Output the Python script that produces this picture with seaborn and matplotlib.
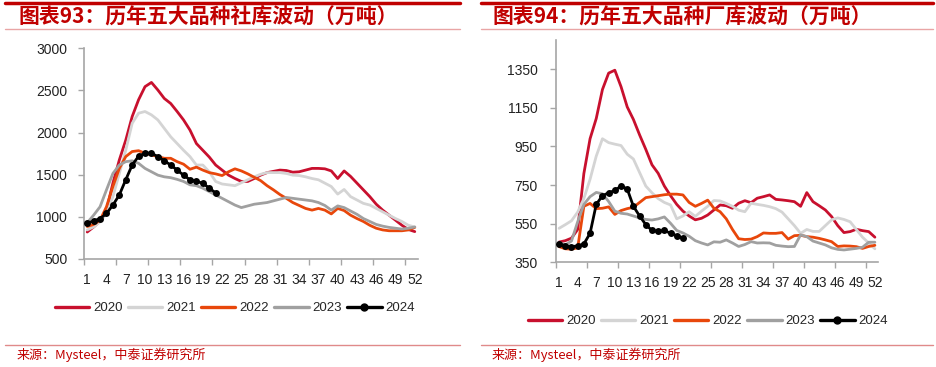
import numpy as np
import pandas as pd
import matplotlib
matplotlib.use("Agg")
import matplotlib.pyplot as plt
from matplotlib.lines import Line2D
import seaborn as sns

# 周次
weeks = list(range(1, 53))
years = ["2020", "2021", "2022", "2023", "2024"]
colors = {"2020": "#C8102E", "2021": "#D4D4D4", "2022": "#E8470B",
          "2023": "#A0A0A0", "2024": "#000000"}

# 社库（万吨）
social_2020 = [820, 880, 950, 1080, 1400, 1675, 1910, 2190, 2390, 2545, 2595, 2505, 2405,
               2345, 2250, 2150, 2030, 1870, 1790, 1710, 1615, 1555, 1495, 1455, 1420, 1420,
               1455, 1495, 1525, 1540, 1555, 1550, 1530, 1535, 1555, 1575, 1575, 1570, 1545,
               1455, 1545, 1480, 1400, 1320, 1240, 1150, 1080, 1020, 960, 900, 850, 825]
social_2021 = [845, 880, 940, 1040, 1240, 1515, 1790, 2110, 2230, 2250, 2210, 2150, 2050,
               1950, 1870, 1790, 1715, 1615, 1615, 1535, 1420, 1390, 1380, 1370, 1405, 1440,
               1475, 1505, 1525, 1525, 1525, 1515, 1495, 1490, 1475, 1455, 1440, 1400, 1360,
               1270, 1325, 1240, 1200, 1160, 1140, 1100, 1060, 1020, 980, 945, 900, 880]
social_2022 = [885, 910, 960, 1120, 1360, 1575, 1715, 1775, 1785, 1755, 1735, 1715, 1695,
               1695, 1655, 1625, 1565, 1590, 1555, 1525, 1510, 1490, 1535, 1570, 1545, 1510,
               1470, 1430, 1370, 1320, 1265, 1220, 1170, 1135, 1100, 1080, 1100, 1080, 1035,
               1100, 1075, 1020, 980, 945, 900, 865, 845, 835, 835, 835, 845, 875]
social_2023 = [930, 1020, 1120, 1320, 1515, 1615, 1655, 1665, 1635, 1575, 1535, 1495, 1475,
               1465, 1445, 1420, 1380, 1370, 1340, 1300, 1260, 1220, 1180, 1140, 1110, 1130,
               1150, 1160, 1170, 1190, 1210, 1230, 1220, 1210, 1200, 1190, 1170, 1135, 1080,
               1130, 1110, 1070, 1030, 980, 945, 910, 890, 875, 865, 855, 865, 880]
social_2024 = [925, 950, 980, 1040, 1140, 1260, 1440, 1615, 1720, 1755, 1755, 1715, 1665,
               1615, 1555, 1495, 1440, 1420, 1400, 1340, 1285]

# 厂库（万吨）
factory_2020 = [455, 462, 475, 520, 810, 990, 1095, 1245, 1330, 1345, 1260, 1155, 1090,
                1010, 935, 855, 811, 745, 695, 650, 615, 590, 570, 578, 595, 621, 647, 643,
                630, 656, 669, 659, 682, 690, 699, 676, 673, 669, 664, 640, 711, 664, 643,
                621, 587, 540, 504, 509, 521, 514, 509, 480]
factory_2021 = [526, 545, 565, 610, 680, 780, 900, 990, 970, 962, 955, 910, 885, 815, 745,
                710, 680, 660, 647, 575, 590, 612, 588, 615, 640, 670, 668, 655, 640, 620,
                612, 656, 650, 645, 638, 628, 610, 575, 540, 500, 520, 510, 510, 540, 570,
                580, 572, 560, 520, 480, 450, 420]
factory_2022 = [431, 420, 418, 425, 640, 655, 628, 630, 637, 598, 618, 628, 635, 660, 685,
                690, 695, 700, 703, 703, 699, 660, 640, 655, 672, 630, 612, 575, 520, 472,
                468, 470, 483, 502, 500, 500, 504, 470, 488, 490, 483, 480, 474, 466, 457,
                432, 435, 434, 431, 422, 432, 438]
factory_2023 = [452, 440, 460, 560, 650, 690, 712, 705, 665, 615, 604, 600, 590, 580, 572,
                569, 575, 585, 552, 515, 502, 485, 462, 450, 440, 456, 454, 466, 450, 432,
                442, 457, 450, 451, 450, 438, 434, 431, 432, 492, 483, 460, 450, 440, 425,
                417, 414, 418, 422, 428, 454, 454]
factory_2024 = [445, 435, 431, 435, 445, 500, 650, 695, 710, 722, 745, 730, 640, 590, 545,
                515, 510, 515, 500, 488, 475]

xtick_labels = [str(w) for w in range(1, 53, 3)]


def to_long(series):
    rows = []
    for y, vals in zip(years, series):
        for w, v in zip(weeks, vals):
            rows.append({"week": w, "year": y, "value": v})
    return pd.DataFrame(rows)


social_df = to_long([social_2020, social_2021, social_2022, social_2023, social_2024])
factory_df = to_long([factory_2020, factory_2021, factory_2022, factory_2023, factory_2024])

sns.set_theme(style="white")
plt.rcParams["font.family"] = ["Liberation Sans", "DejaVu Sans"]
cjk = ["Noto Sans CJK SC", "DejaVu Sans"]

W, H = 937, 367
fig = plt.figure(figsize=(W / 100, H / 100), dpi=100)


def px_axes(x0, x1, ytop, ybot):
    return fig.add_axes([x0 / W, 1 - ybot / H, (x1 - x0) / W, (ybot - ytop) / H])


def draw_panel(ax, df, ylim, yticks, pad):
    for y in years:
        d = df[df["year"] == y]
        if y == "2024":
            sns.lineplot(data=d, x="week", y="value", ax=ax, color=colors[y], lw=2.0,
                         marker="o", markersize=5, markeredgewidth=0, zorder=6)
        else:
            sns.lineplot(data=d, x="week", y="value", ax=ax, color=colors[y], lw=2.0)
    ax.set_xlim(0.5, 52.5)
    ax.set_ylim(*ylim)
    ax.set_yticks(yticks)
    ax.set_xticks(range(1, 53, 3))
    ax.set_xticklabels(xtick_labels)
    ax.set_xticks(np.arange(0.5, 53, 5), minor=True)
    ax.set_xlabel("")
    ax.set_ylabel("")
    for s in ["top", "right"]:
        ax.spines[s].set_visible(False)
    for s in ["left", "bottom"]:
        ax.spines[s].set_color("#A6A6A6")
        ax.spines[s].set_linewidth(1.2)
    ax.tick_params(axis="y", which="major", left=True, length=4, width=1, color="#A6A6A6",
                   labelsize=10, pad=pad, labelcolor="#222222")
    ax.tick_params(axis="x", which="major", bottom=False, labelsize=10, pad=4,
                   labelcolor="#222222")
    ax.tick_params(axis="x", which="minor", bottom=True, length=4, width=1, color="#A6A6A6")
    ax.grid(False)


ax1 = px_axes(84, 418, 48.3, 259)
draw_panel(ax1, social_df, (500, 3000), range(500, 3001, 500), 8)
ax2 = px_axes(556, 878, 40.3, 262.3)
draw_panel(ax2, factory_df, (350, 1500), range(350, 1351, 200), 9)

handles = []
for y in years:
    if y == "2024":
        handles.append(Line2D([], [], color=colors[y], lw=2.4, marker="o", markersize=5))
    else:
        handles.append(Line2D([], [], color=colors[y], lw=2.4))

legend_kw = dict(loc="center", ncol=5, frameon=False, fontsize=9.5, handlelength=2.6,
                 handletextpad=0.3, columnspacing=0.4, borderaxespad=0)
fig.legend(handles, years, bbox_to_anchor=(235 / W, 1 - 308 / H), **legend_kw)
fig.legend(handles, years, bbox_to_anchor=(708 / W, 1 - 321 / H), **legend_kw)

# 标题与边框线
red = "#C00000"
titles = ["图表93：历年五大品种社库波动（万吨）", "图表94：历年五大品种厂库波动（万吨）"]
for (x0, x1, tx), title in zip([(5, 460, 18), (481, 933, 493)], titles):
    fig.add_artist(Line2D([x0 / W, x1 / W], [1 - 3 / H, 1 - 3 / H], color=red, lw=2.5))
    fig.add_artist(Line2D([x0 / W, x1 / W], [1 - 29 / H, 1 - 29 / H], color="#E9A5A5", lw=1))
    fig.add_artist(Line2D([x0 / W, x1 / W], [1 - 345 / H, 1 - 345 / H], color="#E08A8A", lw=1))
    fig.text(tx / W, 1 - 16 / H, title, family=cjk, fontsize=15, fontweight="bold",
             color=red, va="center", ha="left", style="italic")
    fig.text((tx - 1) / W, 1 - 355 / H, "来源：Mysteel，中泰证券研究所", family=cjk,
             fontsize=9.4, color=red, va="center", ha="left")

fig.savefig("out.png", dpi=100)
